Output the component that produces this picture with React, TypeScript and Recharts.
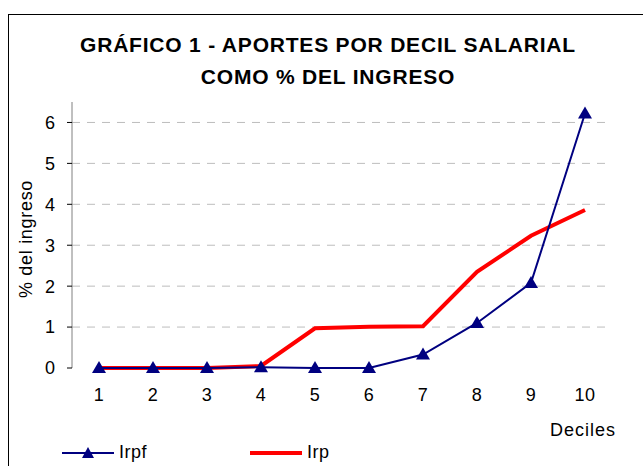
import React from 'react';
import { CartesianGrid, Legend, Line, LineChart, XAxis, YAxis } from 'recharts';

const deciles = [1, 2, 3, 4, 5, 6, 7, 8, 9, 10];
const irpfValues = [0, 0, 0, 0.02, 0, 0, 0.33, 1.1, 2.08, 6.22];
const irpValues = [0, 0, 0, 0.05, 0.97, 1.01, 1.02, 2.35, 3.23, 3.86];
const yTicks = [0, 1, 2, 3, 4, 5, 6];
const gridValues = [1, 2, 3, 4, 5, 6];
const bandEdges = [0.5, 1.5, 2.5, 3.5, 4.5, 5.5, 6.5, 7.5, 8.5, 9.5, 10.5];

const data = deciles.map((d, i) => ({ decil: d, irpf: irpfValues[i], irp: irpValues[i] }));

const FONT = '"Liberation Sans", Arial, sans-serif';
const NAVY = '#000080';
const RED = '#ff0000';

function Triangle(props: any) {
  const { cx, cy, index } = props;
  if (cx == null || cy == null) return <g key={index} />;
  return (
    <polygon
      key={index}
      points={`${cx},${cy - 7} ${cx - 7},${cy + 5} ${cx + 7},${cy + 5}`}
      fill={NAVY}
    />
  );
}

function ChartLegend() {
  return (
    <div style={{ display: 'flex', alignItems: 'center', fontFamily: FONT, fontSize: 18, letterSpacing: 0.5, color: '#000' }}>
      <svg width={52} height={14}>
        <line x1={0} y1={7} x2={52} y2={7} stroke={NAVY} strokeWidth={2} />
        <polygon points="26,1 20,12 32,12" fill={NAVY} />
      </svg>
      <span style={{ marginLeft: 5, width: 131 }}>Irpf</span>
      <svg width={52} height={14}>
        <line x1={0} y1={7} x2={52} y2={7} stroke={RED} strokeWidth={4} />
      </svg>
      <span style={{ marginLeft: 5 }}>Irp</span>
    </div>
  );
}

export default function App() {
  return (
    <div style={{ position: 'fixed', left: 0, top: 0, width: 643, height: 466, overflow: 'hidden', background: '#fff' }}>
      <div
        style={{
          position: 'absolute',
          left: 8,
          top: 14,
          width: 700,
          height: 500,
          border: '1px solid #000',
          boxSizing: 'border-box',
        }}
      />
      <div
        style={{
          position: 'absolute',
          left: 0,
          top: 29,
          width: 656,
          textAlign: 'center',
          fontFamily: FONT,
          fontWeight: 'bold',
          fontSize: 21,
          letterSpacing: 0.8,
          lineHeight: '32px',
          color: '#000',
        }}
      >
        <div>GRÁFICO 1 - APORTES POR DECIL SALARIAL</div>
        <div>COMO % DEL INGRESO</div>
      </div>
      <div style={{ position: 'absolute', left: 0, top: 0 }}>
        <LineChart width={643} height={466} data={data} margin={{ top: 102, right: 31, bottom: 0, left: 0 }}>
          <CartesianGrid
            vertical={false}
            horizontalValues={gridValues}
            stroke="#bdbdbd"
            strokeDasharray="8 7"
            xAxisId="edges"
          />
          <XAxis
            xAxisId="edges"
            type="number"
            dataKey="decil"
            domain={[0.5, 10.5]}
            ticks={bandEdges}
            height={0}
            tick={false}
            tickSize={5}
            tickLine={{ stroke: '#000' }}
            axisLine={{ stroke: '#000' }}
          />
          <XAxis
            xAxisId="labels"
            type="number"
            dataKey="decil"
            domain={[0.5, 10.5]}
            ticks={deciles}
            height={98}
            axisLine={false}
            tickLine={false}
            tickSize={0}
            tickMargin={20}
            tick={{ fill: '#000', fontSize: 18, fontFamily: FONT, letterSpacing: 0.5 }}
            label={{
              content: ({ viewBox }: any) => (
                <text x={viewBox.x + viewBox.width + 4} y={viewBox.y + 68} textAnchor="end" fill="#000" fontSize={18} fontFamily={FONT} letterSpacing={1}>
                  Deciles
                </text>
              ),
            }}
          />
          <YAxis
            type="number"
            domain={[0, 6.5]}
            ticks={yTicks}
            width={72}
            tickSize={5}
            tickMargin={12}
            axisLine={{ stroke: '#808080' }}
            tickLine={{ stroke: '#000' }}
            tick={{ fill: '#000', fontSize: 18, fontFamily: FONT }}
            label={{
              content: ({ viewBox }: any) => {
                const cx = 26;
                const cy = viewBox.y + viewBox.height / 2 + 4;
                return (
                  <text x={cx} y={cy} transform={`rotate(-90 ${cx} ${cy})`} textAnchor="middle" dominantBaseline="central" fill="#000" fontSize={18} fontFamily={FONT} letterSpacing={0.7}>
                    % del ingreso
                  </text>
                );
              },
            }}
          />
          <Line
            xAxisId="labels"
            dataKey="irp"
            name="Irp"
            stroke={RED}
            strokeWidth={4}
            dot={false}
            activeDot={false}
            isAnimationActive={false}
          />
          <Line
            xAxisId="labels"
            dataKey="irpf"
            name="Irpf"
            stroke={NAVY}
            strokeWidth={2}
            dot={Triangle}
            activeDot={false}
            isAnimationActive={false}
          />
          <Legend
            layout="horizontal"
            verticalAlign="middle"
            align="center"
            content={() => <ChartLegend />}
            wrapperStyle={{ position: 'absolute', left: 62, top: 442, width: 400 }}
          />
        </LineChart>
      </div>
    </div>
  );
}
